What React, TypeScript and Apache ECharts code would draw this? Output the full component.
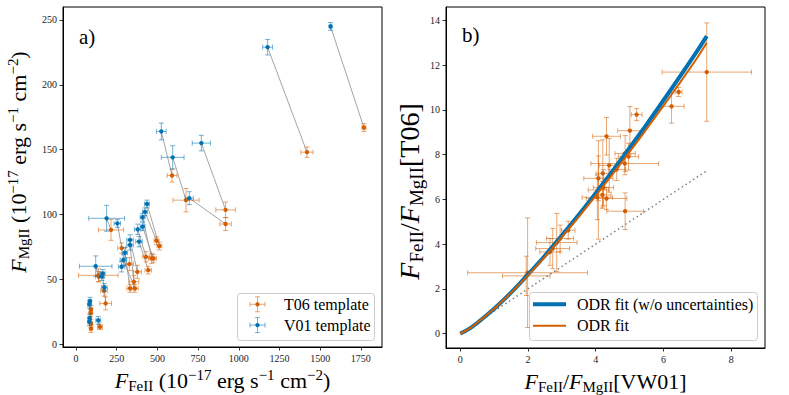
import React, { useEffect, useRef } from "react";
import * as echarts from "echarts";

// ---------- Panel a) data (T06 = orange, V01 = blue); index-aligned pairs ----------
const t06X = [1769, 1419, 590, 676, 919, 919, 215, 281, 137, 172, 182, 140, 92, 90, 92, 92, 147, 377, 356, 332, 362, 328, 430, 444, 465, 475, 495, 512];
const t06Y = [167, 148, 130, 111, 103.5, 92.6, 88, 74, 53, 41, 31.3, 52, 26.7, 24, 15.8, 11.9, 13.2, 55.7, 48, 42.9, 42.9, 61.7, 67.3, 57, 66, 66, 79.7, 75.6];
const t06XErr = [12, 38, 30, 80, 60, 35, 77, 25, 121, 20, 36, 20, 10, 10, 10, 10, 15, 25, 30, 20, 20, 25, 20, 20, 20, 20, 15, 15];
const t06YErr = [3, 4, 5, 9, 6, 5, 8, 4, 5, 4, 5, 4, 3, 3, 3, 3, 2, 5, 5, 3, 3, 5, 4, 3, 4, 3, 3, 3];

const v01X = [1564, 1177, 524, 594, 770, 696, 188, 254, 121, 164, 174, 158, 82, 86, 82, 84, 137, 332, 332, 301, 291, 280, 379, 387, 409, 409, 424, 436];
const v01Y = [245, 229, 164, 144, 155, 112.5, 97, 93, 60, 54.5, 43.6, 52, 30.7, 33, 17.2, 20, 18.3, 80.3, 76.4, 70.4, 64.8, 59.6, 88.5, 79, 97.8, 90.6, 102, 108];
const v01XErr = [8, 30, 30, 70, 56, 25, 110, 20, 100, 15, 18, 15, 10, 10, 10, 10, 15, 20, 20, 15, 20, 20, 20, 20, 15, 15, 15, 15];
const v01YErr = [3, 6, 6.5, 9, 6, 5, 10, 3, 8, 3, 3, 3, 3, 3, 3, 3, 3, 4, 4, 4, 4, 4, 4, 4, 3, 3, 3, 3];

// ---------- Panel b) data ----------
const ratioX = [7.28, 6.45, 6.24, 5.21, 5.01, 4.32, 4.87, 4.97, 4.86, 4.4, 4.62, 4.08, 4.21, 4.23, 4.08, 4.05, 4.32, 4.2, 4.87, 3.19, 2.95, 2.85, 2.73, 2.65, 1.99, 1.95];
const ratioY = [11.69, 10.8, 10.16, 9.79, 9.07, 8.82, 8.05, 7.91, 7.6, 7.52, 7.34, 6.94, 7.16, 6.53, 6.42, 6.09, 6.04, 6.2, 5.47, 4.62, 4.25, 4.07, 3.8, 3.65, 2.72, 2.58];
const ratioXErr = [1.32, 0.1, 0.37, 0.16, 0.36, 0.41, 0.3, 0.3, 1.0, 0.3, 0.25, 0.43, 0.2, 0.3, 0.3, 0.45, 0.6, 0.25, 0.54, 0.2, 0.4, 0.6, 0.5, 0.3, 1.77, 0.7];
const ratioYErr = [2.2, 0.2, 0.75, 0.27, 1.08, 0.84, 0.8, 0.6, 0.5, 1.2, 0.5, 1.0, 1.5, 0.8, 2.2, 1.0, 0.5, 0.6, 0.82, 0.4, 0.6, 1.3, 0.9, 0.6, 2.45, 0.88];

const fitNoUncX = [0, 0.25, 0.5, 1, 1.5, 2, 2.5, 3, 3.5, 4, 4.5, 5, 5.5, 6, 6.5, 7, 7.28];
const fitNoUncY = [0, 0.2, 0.47, 1.11, 1.83, 2.64, 3.48, 4.38, 5.31, 6.28, 7.27, 8.3, 9.34, 10.42, 11.52, 12.64, 13.3];
const fitX = [0, 0.25, 0.5, 1, 1.5, 2, 2.5, 3, 3.5, 4, 4.5, 5, 5.5, 6, 6.5, 7, 7.28];
const fitY = [0, 0.2, 0.48, 1.11, 1.82, 2.6, 3.43, 4.31, 5.22, 6.16, 7.13, 8.12, 9.14, 10.18, 11.24, 12.33, 13.0];
const oneToOneX = [0, 7.28];
const oneToOneY = [0, 7.28];

// ---------- Tick labels ----------
const ticksAX = [0, 250, 500, 750, 1000, 1250, 1500, 1750];
const ticksAY = [0, 50, 100, 150, 200, 250];
const ticksBX = [0, 2, 4, 6, 8];
const ticksBY = [0, 2, 4, 6, 8, 10, 12, 14];

const legendA = ["T06 template", "V01 template"];
const legendB = ["ODR fit (w/o uncertainties)", "ODR fit"];

const BLUE = "#0072B2";
const ORANGE = "#D55E00";
const FONT = "Liberation Serif";

function errRender(color: string) {
  return (params: any, api: any) => {
    const x = api.value(0), y = api.value(1), ex = api.value(2), ey = api.value(3);
    const c = api.coord([x, y]);
    const l = api.coord([x - ex, y]);
    const r = api.coord([x + ex, y]);
    const t = api.coord([x, y + ey]);
    const b = api.coord([x, y - ey]);
    const cap = 2.5;
    const ls = { stroke: color, lineWidth: 1, opacity: 0.55 };
    return {
      type: "group",
      children: [
        { type: "line", shape: { x1: l[0], y1: c[1], x2: r[0], y2: c[1] }, style: ls },
        { type: "line", shape: { x1: c[0], y1: t[1], x2: c[0], y2: b[1] }, style: ls },
        { type: "line", shape: { x1: l[0], y1: c[1] - cap, x2: l[0], y2: c[1] + cap }, style: ls },
        { type: "line", shape: { x1: r[0], y1: c[1] - cap, x2: r[0], y2: c[1] + cap }, style: ls },
        { type: "line", shape: { x1: c[0] - cap, y1: t[1], x2: c[0] + cap, y2: t[1] }, style: ls },
        { type: "line", shape: { x1: c[0] - cap, y1: b[1], x2: c[0] + cap, y2: b[1] }, style: ls },
        { type: "circle", shape: { cx: c[0], cy: c[1], r: 2.2 }, style: { fill: color } },
      ],
    };
  };
}

function pairRender(params: any, api: any) {
  const p1 = api.coord([api.value(0), api.value(1)]);
  const p2 = api.coord([api.value(2), api.value(3)]);
  return {
    type: "line",
    shape: { x1: p1[0], y1: p1[1], x2: p2[0], y2: p2[1] },
    style: { stroke: "#9a9a9a", lineWidth: 0.9 },
  };
}

function makeNameStyle(main: number, small: number, padding: number[]) {
  return {
    fontFamily: FONT,
    fontSize: main,
    color: "#000",
    lineHeight: Math.round(main * 1.2),
    padding,
    rich: {
      i: { fontStyle: "italic", fontFamily: FONT, fontSize: main, color: "#000" },
      sub: { fontFamily: FONT, fontSize: small, verticalAlign: "bottom", lineHeight: Math.round(small * 1.07), color: "#000" },
      sup: { fontFamily: FONT, fontSize: small, verticalAlign: "top", lineHeight: Math.round(small * 0.67), color: "#000" },
    },
  };
}

function valueAxis(grid: number, min: number, max: number, ticks: number[], extra: any) {
  return {
    type: "value",
    gridIndex: grid,
    min,
    max,
    axisLine: { show: true, onZero: false, lineStyle: { color: "#000", width: 1 } },
    axisTick: { show: true, length: 3.5, inside: false, customValues: ticks, lineStyle: { color: "#000", width: 0.8 } },
    axisLabel: {
      customValues: ticks,
      fontFamily: FONT,
      fontSize: 10,
      color: "#222",
      margin: 6,
      formatter: (v: number) => String(v),
    },
    splitLine: { show: false },
    nameLocation: "middle",
    ...extra,
  };
}

function errData(xs: number[], ys: number[], exs: number[], eys: number[]) {
  return xs.map((x, i) => [x, ys[i], exs[i], eys[i]]);
}

export default function App() {
  const ref = useRef<HTMLDivElement>(null);
  useEffect(() => {
    if (!ref.current) return;
    const chart = echarts.init(ref.current, null, { renderer: "svg" });
    const pairs = v01X.map((x, i) => [x, v01Y[i], t06X[i], t06Y[i]]);
    const option: any = {
      animation: false,
      backgroundColor: "#fff",
      grid: [
        { left: 63, top: 7, width: 319, height: 340, show: true, borderColor: "#000", borderWidth: 1, backgroundColor: "transparent", containLabel: false, outerBoundsMode: "none" },
        { left: 446, top: 7, width: 319, height: 341, show: true, borderColor: "#000", borderWidth: 1, backgroundColor: "transparent", containLabel: false, outerBoundsMode: "none" },
      ],
      xAxis: [
        valueAxis(0, -80, 1880, ticksAX, {
          name: "{i|F}{sub|FeII} (10{sup|−17} erg s{sup|−1} cm{sup|−2})",
          nameGap: 13,
          nameTextStyle: makeNameStyle(22, 15, [0, 0, 0, 0]),
        }),
        valueAxis(1, -0.42, 9.0, ticksBX, {
          name: "{i|F}{sub|FeII}/{i|F}{sub|MgII}[VW01]",
          nameGap: 13,
          nameTextStyle: makeNameStyle(22, 15, [0, 0, 0, 0]),
        }),
      ],
      yAxis: [
        valueAxis(0, -2.3, 260, ticksAY, {
          name: "{i|F}{sub|MgII} (10{sup|−17} erg s{sup|−1} cm{sup|−2})",
          nameGap: 32,
          nameRotate: 90,
          nameTextStyle: makeNameStyle(22, 15, [0, 0, 0, 30]),
        }),
        valueAxis(1, -0.645, 14.6, ticksBY, {
          name: "{i|F}{sub|FeII}/{i|F}{sub|MgII}[T06]",
          nameGap: 19,
          nameRotate: 90,
          nameTextStyle: makeNameStyle(28, 19, [0, 28, 0, 0]),
        }),
      ],
      series: [
        {
          type: "custom",
          name: "pairs",
          xAxisIndex: 0,
          yAxisIndex: 0,
          renderItem: pairRender,
          encode: { x: [0, 2], y: [1, 3] },
          data: pairs,
          z: 1,
        },
        {
          type: "custom",
          name: legendA[0],
          xAxisIndex: 0,
          yAxisIndex: 0,
          renderItem: errRender(ORANGE),
          encode: { x: 0, y: 1 },
          data: errData(t06X, t06Y, t06XErr, t06YErr),
          z: 2,
        },
        {
          type: "custom",
          name: legendA[1],
          xAxisIndex: 0,
          yAxisIndex: 0,
          renderItem: errRender(BLUE),
          encode: { x: 0, y: 1 },
          data: errData(v01X, v01Y, v01XErr, v01YErr),
          z: 3,
        },
        {
          type: "custom",
          name: "ratios",
          xAxisIndex: 1,
          yAxisIndex: 1,
          renderItem: errRender(ORANGE),
          encode: { x: 0, y: 1 },
          data: errData(ratioX, ratioY, ratioXErr, ratioYErr),
          z: 2,
        },
        {
          type: "line",
          name: "1:1",
          xAxisIndex: 1,
          yAxisIndex: 1,
          data: oneToOneX.map((x, i) => [x, oneToOneY[i]]),
          showSymbol: false,
          symbol: "none",
          lineStyle: { color: "#7f7f7f", width: 1.5, type: [1.5, 3] },
          z: 3,
        },
        {
          type: "line",
          name: legendB[0],
          xAxisIndex: 1,
          yAxisIndex: 1,
          data: fitNoUncX.map((x, i) => [x, fitNoUncY[i]]),
          showSymbol: false,
          symbol: "none",
          smooth: 0.3,
          lineStyle: { color: BLUE, width: 4 },
          z: 4,
        },
        {
          type: "line",
          name: legendB[1],
          xAxisIndex: 1,
          yAxisIndex: 1,
          data: fitX.map((x, i) => [x, fitY[i]]),
          showSymbol: false,
          symbol: "none",
          smooth: 0.3,
          lineStyle: { color: ORANGE, width: 2 },
          z: 5,
        },
      ],
      graphic: [
        { type: "text", left: 79, top: 26, style: { text: "a)", fontFamily: FONT, fontSize: 21, fill: "#000" }, z: 10 },
        { type: "text", left: 462, top: 24, style: { text: "b)", fontFamily: FONT, fontSize: 21, fill: "#000" }, z: 10 },
        // Legend a)
        {
          type: "group",
          z: 20,
          children: [
            { type: "rect", shape: { x: 237.5, y: 293.5, width: 137, height: 47, r: 3 }, style: { fill: "rgba(255,255,255,0.8)", stroke: "#cccccc", lineWidth: 1 } },
            ...[0, 1].flatMap((k) => {
              const cy = 304.3 + k * 20.8;
              const col = k === 0 ? ORANGE : BLUE;
              const ls = { stroke: col, lineWidth: 1, opacity: 0.55 };
              return [
                { type: "line", shape: { x1: 250, y1: cy, x2: 265, y2: cy }, style: ls },
                { type: "line", shape: { x1: 257.5, y1: cy - 7.5, x2: 257.5, y2: cy + 7.5 }, style: ls },
                { type: "line", shape: { x1: 250, y1: cy - 2.5, x2: 250, y2: cy + 2.5 }, style: ls },
                { type: "line", shape: { x1: 265, y1: cy - 2.5, x2: 265, y2: cy + 2.5 }, style: ls },
                { type: "line", shape: { x1: 255, y1: cy - 7.5, x2: 260, y2: cy - 7.5 }, style: ls },
                { type: "line", shape: { x1: 255, y1: cy + 7.5, x2: 260, y2: cy + 7.5 }, style: ls },
                { type: "circle", shape: { cx: 257.5, cy, r: 2.2 }, style: { fill: col } },
                { type: "text", x: 284, y: cy, style: { text: legendA[k], fontFamily: FONT, fontSize: 16, fill: "#000", verticalAlign: "middle" } },
              ];
            }),
          ],
        },
        // Legend b)
        {
          type: "group",
          z: 20,
          children: [
            { type: "rect", shape: { x: 529.5, y: 292.5, width: 228, height: 48, r: 3 }, style: { fill: "rgba(255,255,255,0.8)", stroke: "#cccccc", lineWidth: 1 } },
            { type: "line", shape: { x1: 533, y1: 304.3, x2: 566, y2: 304.3 }, style: { stroke: BLUE, lineWidth: 4 } },
            { type: "line", shape: { x1: 533, y1: 325.7, x2: 566, y2: 325.7 }, style: { stroke: ORANGE, lineWidth: 2 } },
            { type: "text", x: 577, y: 304.3, style: { text: legendB[0], fontFamily: FONT, fontSize: 16, fill: "#000", verticalAlign: "middle" } },
            { type: "text", x: 577, y: 325.7, style: { text: legendB[1], fontFamily: FONT, fontSize: 16, fill: "#000", verticalAlign: "middle" } },
          ],
        },
      ],
    };
    chart.setOption(option);
    return () => chart.dispose();
  }, []);
  return (
    <div
      ref={ref}
      style={{ position: "fixed", left: 0, top: 0, width: 789, height: 395, background: "#fff" }}
    />
  );
}
